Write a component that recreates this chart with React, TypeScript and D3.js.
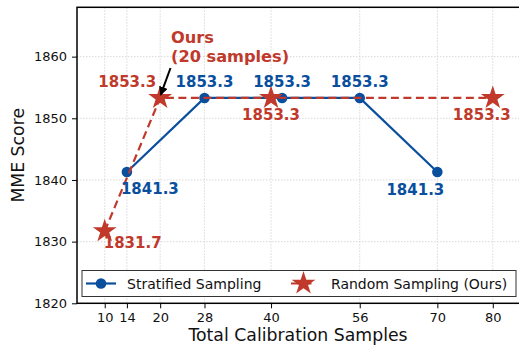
import { useRef, useEffect } from 'react';
import * as d3 from 'd3';

const strataX = [14, 28, 42, 56, 70];
const strataY = [1841.3, 1853.3, 1853.3, 1853.3, 1841.3];
const randomX = [10, 20, 40, 80];
const randomY = [1831.7, 1853.3, 1853.3, 1853.3];
const xTicks = [10, 14, 20, 28, 40, 56, 70, 80];
const yTicks = [1820, 1830, 1840, 1850, 1860];

const BLUE = '#0a4f9e';
const RED = '#c0392b';
const FONT = '"DejaVu Sans", sans-serif';

export default function App() {
  const svgRef = useRef<SVGSVGElement>(null);

  useEffect(() => {
    if (!svgRef.current) return;
    const svg = d3.select(svgRef.current);
    svg.selectAll('*').remove();

    const left = 77, right = 520.5, top = 7.3, bottom = 303.3;
    const x = d3.scaleLinear().domain([5, 85]).range([left, right]);
    const y = d3.scaleLinear().domain([1820, 1868]).range([bottom, top]);

    svg.append('rect').attr('width', 519).attr('height', 345).attr('fill', '#fff');

    // Grid
    const grid = svg.append('g');
    xTicks.forEach((t) => {
      grid.append('line')
        .attr('x1', x(t)).attr('x2', x(t)).attr('y1', top).attr('y2', bottom)
        .attr('stroke', '#cfcfcf').attr('stroke-width', 0.8).attr('stroke-dasharray', '1.5,1.5');
    });
    yTicks.forEach((t) => {
      grid.append('line')
        .attr('x1', left).attr('x2', right).attr('y1', y(t)).attr('y2', y(t))
        .attr('stroke', '#cfcfcf').attr('stroke-width', 0.8).attr('stroke-dasharray', '1.5,1.5');
    });

    // Axes
    const xAxis = svg.append('g')
      .attr('transform', `translate(0,${bottom})`)
      .call(d3.axisBottom(x).tickValues(xTicks).tickSize(5).tickPadding(4).tickFormat(d3.format('d')));
    const yAxis = svg.append('g')
      .attr('transform', `translate(${left},0)`)
      .call(d3.axisLeft(y).tickValues(yTicks).tickSize(5).tickPadding(5).tickFormat(d3.format('d')));
    [xAxis, yAxis].forEach((a) => {
      a.select('.domain').remove();
      a.selectAll('line').attr('stroke', '#000').attr('stroke-width', 1);
      a.selectAll('text').attr('fill', '#111').style('font-size', '13px').style('font-family', FONT);
    });

    // Spines
    svg.append('rect')
      .attr('x', left).attr('y', top).attr('width', right - left).attr('height', bottom - top)
      .attr('fill', 'none').attr('stroke', '#000').attr('stroke-width', 1.5);

    // Axis labels
    svg.append('text')
      .attr('x', 298).attr('y', 341)
      .attr('text-anchor', 'middle').style('font-size', '17.3px').style('font-family', FONT)
      .attr('fill', '#111').text('Total Calibration Samples');
    svg.append('text')
      .attr('transform', `translate(24, ${(top + bottom) / 2}) rotate(-90)`)
      .attr('text-anchor', 'middle').style('font-size', '17.3px').style('font-family', FONT)
      .attr('fill', '#111').text('MME Score');

    const strata = strataX.map((v, i) => [v, strataY[i]] as [number, number]);
    const random = randomX.map((v, i) => [v, randomY[i]] as [number, number]);
    const line = d3.line<[number, number]>().x((d) => x(d[0])).y((d) => y(d[1]));

    svg.append('path').datum(strata).attr('d', line)
      .attr('fill', 'none').attr('stroke', BLUE).attr('stroke-width', 2.2);
    svg.selectAll('circle.s').data(strata).enter().append('circle')
      .attr('cx', (d) => x(d[0])).attr('cy', (d) => y(d[1])).attr('r', 5.3).attr('fill', BLUE);

    svg.append('path').datum(random).attr('d', line)
      .attr('fill', 'none').attr('stroke', RED).attr('stroke-width', 2.2).attr('stroke-dasharray', '8,4.5');
    const star = d3.symbol().type(d3.symbolStar).size(175);
    svg.selectAll('path.r').data(random).enter().append('path')
      .attr('d', star).attr('transform', (d) => `translate(${x(d[0])},${y(d[1])})`).attr('fill', RED);

    // Value labels
    const labelFmt = d3.format('.1f');
    const strataOff: [number, number, string][] = [
      [-6, 22, 'start'], [0, -11, 'middle'], [0, -11, 'middle'], [0, -11, 'middle'], [-22, 23, 'middle'],
    ];
    const randomOff: [number, number, string][] = [
      [-1, 17, 'start'], [-4, -11, 'end'], [0, 22, 'middle'], [-11, 22, 'middle'],
    ];
    strata.forEach((d, i) => {
      svg.append('text')
        .attr('x', x(d[0]) + strataOff[i][0]).attr('y', y(d[1]) + strataOff[i][1])
        .attr('text-anchor', strataOff[i][2]).attr('fill', BLUE)
        .style('font-size', '15px').style('font-weight', 'bold').style('font-family', FONT)
        .text(labelFmt(d[1]));
    });
    random.forEach((d, i) => {
      svg.append('text')
        .attr('x', x(d[0]) + randomOff[i][0]).attr('y', y(d[1]) + randomOff[i][1])
        .attr('text-anchor', randomOff[i][2]).attr('fill', RED)
        .style('font-size', '15px').style('font-weight', 'bold').style('font-family', FONT)
        .text(labelFmt(d[1]));
    });

    // Annotation
    const ann = svg.append('text').attr('fill', RED)
      .style('font-size', '16.2px').style('font-weight', 'bold').style('font-family', FONT);
    ann.append('tspan').attr('x', 171).attr('y', 43).text('Ours');
    ann.append('tspan').attr('x', 171).attr('y', 62).text('(20 samples)');

    svg.append('defs').append('marker')
      .attr('id', 'arrowhead').attr('viewBox', '0 0 10 10').attr('refX', 9).attr('refY', 5)
      .attr('markerWidth', 4.5).attr('markerHeight', 4.5).attr('orient', 'auto')
      .append('path').attr('d', 'M0,0 L10,5 L0,10 z').attr('fill', '#000');
    svg.append('line')
      .attr('x1', 170.5).attr('y1', 68).attr('x2', x(20) + 0.5).attr('y2', y(1853.3) - 3)
      .attr('stroke', '#000').attr('stroke-width', 2).attr('marker-end', 'url(#arrowhead)');

    // Legend
    const lg = svg.append('g');
    lg.append('rect').attr('x', 82).attr('y', 270.5).attr('width', 434).attr('height', 26)
      .attr('fill', '#fff').attr('fill-opacity', 0.9).attr('stroke', '#333').attr('stroke-width', 1);
    lg.append('line').attr('x1', 86).attr('x2', 116).attr('y1', 283.5).attr('y2', 283.5)
      .attr('stroke', BLUE).attr('stroke-width', 2.2);
    lg.append('circle').attr('cx', 101).attr('cy', 283.5).attr('r', 5.3).attr('fill', BLUE);
    lg.append('text').attr('x', 127).attr('y', 288.5).attr('fill', '#111')
      .style('font-size', '14px').style('font-family', FONT).text('Stratified Sampling');
    lg.append('line').attr('x1', 291).attr('x2', 316).attr('y1', 283.5).attr('y2', 283.5)
      .attr('stroke', RED).attr('stroke-width', 2.2).attr('stroke-dasharray', '8,4.5');
    lg.append('path').attr('d', star).attr('transform', 'translate(303.5,283.5)').attr('fill', RED);
    lg.append('text').attr('x', 331).attr('y', 288.5).attr('fill', '#111')
      .style('font-size', '14px').style('font-family', FONT).text('Random Sampling (Ours)');
  }, []);

  return (
    <svg ref={svgRef} width={519} height={345}
      style={{ position: 'absolute', left: 0, top: 0, display: 'block' }} />
  );
}
